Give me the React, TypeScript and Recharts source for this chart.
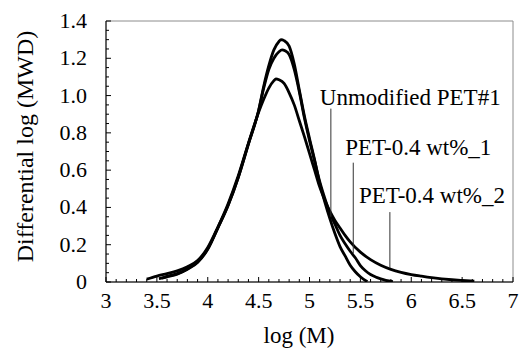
import { LineChart, Line, XAxis, YAxis, ReferenceLine, ReferenceArea } from "recharts"

// log(M) / differential log(MWD) readings per sample
const unmodX = [3.52, 3.6, 3.7, 3.8, 3.9, 4.0, 4.1, 4.2, 4.3, 4.4, 4.5, 4.55, 4.6, 4.65, 4.7, 4.72, 4.75, 4.8, 4.85, 4.9, 4.95, 5.0, 5.05, 5.1, 5.15, 5.2, 5.25, 5.3, 5.35, 5.4, 5.45, 5.5, 5.55, 5.57]
const unmodY = [0.018, 0.028, 0.042, 0.068, 0.105, 0.175, 0.29, 0.41, 0.56, 0.74, 0.92, 1.05, 1.16, 1.245, 1.29, 1.3, 1.295, 1.265, 1.17, 1.03, 0.89, 0.77, 0.655, 0.53, 0.43, 0.34, 0.26, 0.19, 0.14, 0.09, 0.055, 0.028, 0.008, 0.003]

const pet1X = [3.55, 3.6, 3.7, 3.8, 3.9, 4.0, 4.1, 4.2, 4.3, 4.4, 4.5, 4.55, 4.6, 4.65, 4.7, 4.73, 4.76, 4.8, 4.85, 4.9, 4.95, 5.0, 5.05, 5.1, 5.15, 5.2, 5.25, 5.3, 5.35, 5.4, 5.45, 5.5, 5.55, 5.6, 5.65, 5.7, 5.75, 5.82]
const pet1Y = [0.02, 0.03, 0.045, 0.07, 0.108, 0.178, 0.292, 0.412, 0.562, 0.742, 0.92, 1.04, 1.14, 1.2, 1.235, 1.245, 1.24, 1.22, 1.14, 1.02, 0.88, 0.76, 0.65, 0.54, 0.45, 0.37, 0.31, 0.25, 0.205, 0.165, 0.13, 0.088, 0.06, 0.04, 0.027, 0.017, 0.009, 0.002]

const pet2X = [3.4, 3.5, 3.6, 3.7, 3.8, 3.9, 4.0, 4.1, 4.2, 4.3, 4.4, 4.5, 4.55, 4.6, 4.65, 4.67, 4.7, 4.75, 4.8, 4.85, 4.9, 4.95, 5.0, 5.05, 5.1, 5.15, 5.2, 5.25, 5.3, 5.35, 5.4, 5.5, 5.6, 5.7, 5.8, 5.9, 6.0, 6.1, 6.2, 6.3, 6.4, 6.5, 6.62]
const pet2Y = [0.015, 0.032, 0.045, 0.06, 0.082, 0.115, 0.185, 0.295, 0.42, 0.57, 0.745, 0.91, 0.98, 1.04, 1.08, 1.09, 1.085, 1.065, 1.015, 0.95, 0.865, 0.78, 0.69, 0.6, 0.51, 0.44, 0.38, 0.33, 0.29, 0.25, 0.215, 0.16, 0.12, 0.09, 0.068, 0.052, 0.04, 0.031, 0.023, 0.017, 0.012, 0.008, 0.004]

const toPoints = (xs: number[], ys: number[]) => xs.map((x, i) => ({ x, y: ys[i] }))

const xTicks: number[] = []
for (let i = 0; i <= 40; i++) xTicks.push(Math.round((3 + i * 0.1) * 10) / 10)
const yTicks: number[] = []
for (let i = 0; i <= 28; i++) yTicks.push(Math.round(i * 0.05 * 100) / 100)

const FONT = "'Liberation Serif', 'Times New Roman', serif"

const isMultiple = (v: number, step: number) => Math.abs(v / step - Math.round(v / step)) < 1e-6

function XTick(props: any) {
    const { x, y, payload } = props
    const v = payload.value as number
    const major = isMultiple(v, 0.5)
    return (
        <g>
            <line x1={x} x2={x} y1={y} y2={y - (major ? 5 : 3)} stroke="#000" strokeWidth={1} />
            {major && (
                <text x={x} y={y + 26} textAnchor="middle" fontFamily={FONT} fontSize={22} fill="#000">
                    {String(v)}
                </text>
            )}
        </g>
    )
}

function YTick(props: any) {
    const { x, y, payload } = props
    const v = payload.value as number
    const major = isMultiple(v, 0.2)
    return (
        <g>
            <line x1={x} x2={x + (major ? 5 : 3)} y1={y} y2={y} stroke="#000" strokeWidth={1} />
            {major && (
                <text x={x - 19} y={y + 7} textAnchor="end" fontFamily={FONT} fontSize={22} fill="#000">
                    {v === 0 ? "0" : v.toFixed(1)}
                </text>
            )}
        </g>
    )
}

function note(text: string, dx: number, dy: number) {
    return (props: any) => {
        const vb = props.viewBox
        return (
            <text x={vb.x + dx} y={vb.y + dy} fontFamily={FONT} fontSize={23} fill="#000">
                {text}
            </text>
        )
    }
}

export default function App() {
    return (
        <div style={{ position: "absolute", left: 0, top: 0, background: "#fff" }}>
            <LineChart width={521} height={354} margin={{ top: 21, right: 8, bottom: 32, left: 46 }}>
                <XAxis
                    dataKey="x"
                    type="number"
                    domain={[3, 7]}
                    ticks={xTicks}
                    interval={0}
                    height={40}
                    tickSize={0}
                    tickMargin={0}
                    tick={(p: any) => <XTick {...p} />}
                    axisLine={{ stroke: "#000", strokeWidth: 1 }}
                    allowDataOverflow
                    label={{
                        content: (p: any) => (
                            <text
                                x={p.viewBox.x + p.viewBox.width / 2 - 46}
                                y={p.viewBox.y + 61}
                                fontFamily={FONT}
                                fontSize={23}
                                fill="#000"
                            >
                                log (M)
                            </text>
                        ),
                    }}
                />
                <YAxis
                    type="number"
                    domain={[0, 1.4]}
                    ticks={yTicks}
                    interval={0}
                    width={60}
                    tickSize={0}
                    tickMargin={0}
                    tick={(p: any) => <YTick {...p} />}
                    axisLine={{ stroke: "#000", strokeWidth: 1 }}
                    allowDataOverflow
                    label={{
                        content: (p: any) => {
                            const cx = 33
                            const cy = p.viewBox.y + p.viewBox.height / 2 - 5
                            return (
                                <text
                                    x={cx}
                                    y={cy}
                                    transform={`rotate(-90, ${cx}, ${cy})`}
                                    textAnchor="middle"
                                    fontFamily={FONT}
                                    fontSize={24}
                                    fill="#000"
                                >
                                    Differential log (MWD)
                                </text>
                            )
                        },
                    }}
                />
                <ReferenceArea x1={3} x2={7} y1={0} y2={1.4} fill="none" stroke="#8c8c8c" strokeWidth={1} />
                <Line data={toPoints(unmodX, unmodY)} dataKey="y" type="monotone" stroke="#000" strokeWidth={2.8} dot={false} isAnimationActive={false} />
                <Line data={toPoints(pet1X, pet1Y)} dataKey="y" type="monotone" stroke="#000" strokeWidth={2.8} dot={false} isAnimationActive={false} />
                <Line data={toPoints(pet2X, pet2Y)} dataKey="y" type="monotone" stroke="#000" strokeWidth={2.8} dot={false} isAnimationActive={false} />
                <ReferenceLine
                    segment={[{ x: 5.21, y: 0.35 }, { x: 5.21, y: 0.93 }]}
                    stroke="#333"
                    strokeWidth={1}
                    label={note("Unmodified PET#1", -11, -4)}
                />
                <ReferenceLine
                    segment={[{ x: 5.43, y: 0.155 }, { x: 5.43, y: 0.64 }]}
                    stroke="#333"
                    strokeWidth={1}
                    label={note("PET-0.4 wt%_1", -8, -8)}
                />
                <ReferenceLine
                    segment={[{ x: 5.79, y: 0.075 }, { x: 5.79, y: 0.375 }]}
                    stroke="#333"
                    strokeWidth={1}
                    label={note("PET-0.4 wt%_2", -31, -9)}
                />
            </LineChart>
        </div>
    )
}
